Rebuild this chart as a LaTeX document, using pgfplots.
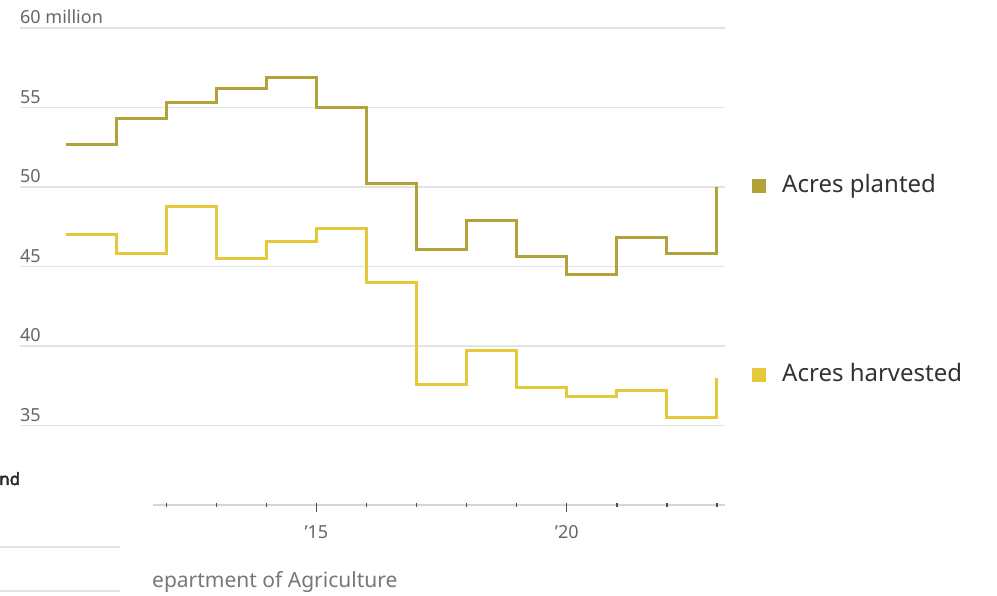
\documentclass[border=0pt]{standalone}
\usepackage{pgfplots}
\pgfplotsset{compat=1.18}
\usepackage{pgfplotstable}
\usepackage{fontspec}
\setmainfont{Noto Sans}
\newfontfamily\heavysans{Noto Sans}[FakeBold=2.5]

\definecolor{planted}{HTML}{B1A33A}
\definecolor{harvested}{HTML}{E5C83C}
\definecolor{gridgray}{HTML}{E3E3E3}
\definecolor{axisgray}{HTML}{D6D6D6}
\definecolor{ticklabel}{HTML}{666666}
\definecolor{legendtext}{HTML}{333333}
\definecolor{sourcegray}{HTML}{777777}

% Wheat acreage, millions of acres
\pgfplotstableread{
year planted harvested
2010 52.7 47.0
2011 54.3 45.8
2012 55.3 48.8
2013 56.2 45.5
2014 56.9 46.6
2015 55.0 47.4
2016 50.2 44.0
2017 46.1 37.6
2018 47.9 39.7
2019 45.6 37.4
2020 44.5 36.8
2021 46.8 37.2
2022 45.8 35.5
2023 50.0 38.0
}\acres

\begin{document}
\begin{tikzpicture}[x=1pt,y=1pt]
\path[use as bounding box] (0,0) rectangle (997,596);

\begin{axis}[
  at={(20pt,91pt)}, anchor=south west,
  scale only axis, width=705pt, height=477pt,
  xmin=2009.08, xmax=2023.16,
  ymin=30, ymax=60,
  clip=false,
  axis line style={draw=none},
  major tick length=0pt,
  xtick=\empty,
  ytick={35,40,45,50,55,60},
  yticklabels={},
  ymajorgrids,
  grid style={gridgray, line width=1.1pt},
]
  % x axis baseline and year ticks
  \draw[axisgray, line width=1.2pt] (axis cs:2011.74,30) -- (axis cs:2023.16,30);
  \pgfplotsinvokeforeach{2012,2013,2014,2016,2017,2018,2019,2021,2022,2023}{
    \draw[black!70, line width=1.4pt] ([yshift=2pt]axis cs:#1,30) -- ([yshift=-2pt]axis cs:#1,30);
  }
  \pgfplotsinvokeforeach{2015,2020}{
    \draw[black!70, line width=1.4pt] ([yshift=2pt]axis cs:#1,30) -- ([yshift=-7pt]axis cs:#1,30);
  }
  \node[anchor=base, inner sep=0pt, text=ticklabel, font=\fontsize{18}{20}\selectfont]
    at ([yshift=-34pt]axis cs:2015,30) {’15};
  \node[anchor=base, inner sep=0pt, text=ticklabel, font=\fontsize{18}{20}\selectfont]
    at ([yshift=-34pt]axis cs:2020,30) {’20};

  % y labels sitting on their gridlines
  \pgfplotsinvokeforeach{35,40,45,50,55}{
    \node[anchor=base west, inner sep=0pt, text=ticklabel, font=\fontsize{18}{20}\selectfont]
      at ([yshift=4pt]axis cs:2009.08,#1) {#1};
  }
  \node[anchor=base west, inner sep=0pt, text=ticklabel, font=\fontsize{18}{20}\selectfont]
    at ([yshift=4pt]axis cs:2009.08,60) {60 million};

  \addplot[const plot mark left, harvested, line width=3pt, line join=miter, no marks]
    table[x=year, y=harvested] {\acres};
  \addplot[const plot mark left, planted, line width=3pt, line join=miter, no marks]
    table[x=year, y=planted] {\acres};
\end{axis}

% legend
\fill[planted] (752,403) rectangle (766,417);
\node[anchor=base west, inner sep=0pt, text=legendtext, font=\fontsize{24}{28}\selectfont]
  at (782,403) {Acres planted};
\fill[harvested] (752,214) rectangle (766,228);
\node[anchor=base west, inner sep=0pt, text=legendtext, font=\fontsize{24}{28}\selectfont]
  at (782,214) {Acres harvested};

% neighbouring panel and source line
\node[anchor=base west, inner sep=0pt, text=black!85, font=\heavysans\fontsize{17}{20}\selectfont]
  at (-1,111) {nd};
\draw[gridgray, line width=1.2pt] (0,49) -- (120,49);
\draw[gridgray, line width=1.2pt] (0,5) -- (120,5);
\node[anchor=base west, inner sep=0pt, text=sourcegray, font=\fontsize{21}{24}\selectfont]
  at (152,8) {epartment of Agriculture};
\end{tikzpicture}
\end{document}
